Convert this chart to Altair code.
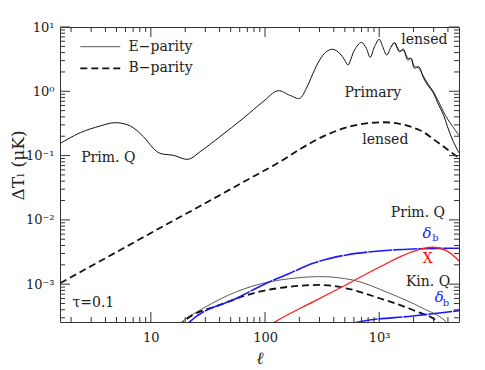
import altair as alt
import pandas as pd

# ---------------- data ----------------
# Primary E-parity (unlensed)
e_prim_l = [1.61, 2.41, 3.6, 4.88, 6.6, 8.6, 10.5, 12, 15.7, 21.3, 27, 40.3, 64.4, 96, 130, 164,
            201, 230, 263, 301, 344, 394, 450, 498, 532, 608, 697, 771, 834, 910, 1000, 1074,
            1164, 1273, 1361, 1503, 1629, 1778, 1901, 2032, 2218, 2444, 2655, 2990, 3250, 3658,
            3972, 4395, 5000]
e_prim_v = [0.155, 0.227, 0.289, 0.325, 0.289, 0.197, 0.130, 0.1086, 0.101, 0.0876, 0.115, 0.197,
            0.38, 0.689, 1.02, 0.87, 0.776, 1.11, 1.9, 3.07, 4.13, 4.5, 3.9, 3.07, 2.57, 4.39,
            5.78, 4.66, 3.38, 4.94, 6.44, 4.94, 3.67, 4.94, 5.7, 4.13, 4.55, 3.07, 3.26, 2.28,
            2.42, 1.61, 1.25, 0.94, 0.66, 0.43, 0.279, 0.175, 0.11]
# Lensed E-parity (tail only, joins the primary curve at l=1361)
e_lens_l = [1273, 1361, 1503, 1629, 1778, 1901, 2032, 2218, 2444, 2655, 2990, 3250, 3658, 3972, 4395, 5000]
e_lens_v = [4.94, 5.7, 4.25, 4.3, 3.3, 3.2, 2.45, 2.3, 1.7, 1.33, 0.98, 0.74, 0.48, 0.37, 0.285, 0.205]
# Lensed B-parity
b_lens_l = [1.61, 3.15, 6.17, 12, 27, 76, 134, 201, 344, 584, 1090, 2250, 3340, 5000]
b_lens_v = [1.04e-3, 2.01e-3, 3.88e-3, 7.48e-3, 0.0164, 0.0455, 0.0794, 0.125, 0.209, 0.29, 0.33,
            0.25, 0.155, 0.0914]
# Kinetic Q, E-parity
kin_e_l = [17, 18.7, 28.8, 56.4, 110, 135, 301, 588, 1230, 2404, 3846, 4500]
kin_e_v = [2.2e-4, 2.58e-4, 4.22e-4, 7.64e-4, 1.09e-3, 1.16e-3, 1.31e-3, 1.16e-3, 7.22e-4,
           4.22e-4, 2.61e-4, 1.9e-4]
# Kinetic Q, B-parity
kin_b_l = [17.5, 19.3, 40.3, 78.7, 165, 301, 515, 1007, 1963, 3251, 3800]
kin_b_v = [2.2e-4, 2.61e-4, 4.75e-4, 7.22e-4, 9.14e-4, 9.72e-4, 8.63e-4, 6.04e-4, 3.97e-4,
           2.61e-4, 2.0e-4]
# delta_b (Prim. Q)
db_prim_l = [20, 22, 56.4, 110, 165, 263, 515, 1007, 1963, 5000]
db_prim_v = [2.2e-4, 2.61e-4, 6.04e-4, 1.09e-3, 1.48e-3, 2.11e-3, 2.85e-3, 3.28e-3, 3.53e-3, 3.62e-3]
# X
x_l = [110, 122, 263, 515, 1007, 1963, 2450, 2938, 3846, 5000]
x_v = [2.3e-4, 2.58e-4, 5.3e-4, 9.8e-4, 1.85e-3, 3.2e-3, 3.6e-3, 3.75e-3, 3.35e-3, 2.3e-3]
# delta_b (Kin. Q)
db_kin_l = [600, 673, 1963, 5000]
db_kin_v = [2.5e-4, 2.61e-4, 3.2e-4, 3.87e-4]

# ticks
x_major = [10, 100, 1000]
x_minor = [2, 3, 4, 5, 6, 7, 8, 9, 20, 30, 40, 50, 60, 70, 80, 90,
           200, 300, 400, 500, 600, 700, 800, 900, 2000, 3000, 4000]
y_major = [1e-3, 1e-2, 1e-1, 1, 10]
y_minor = [3e-4, 4e-4, 5e-4, 6e-4, 7e-4, 8e-4, 9e-4,
           2e-3, 3e-3, 4e-3, 5e-3, 6e-3, 7e-3, 8e-3, 9e-3,
           2e-2, 3e-2, 4e-2, 5e-2, 6e-2, 7e-2, 8e-2, 9e-2,
           0.2, 0.3, 0.4, 0.5, 0.6, 0.7, 0.8, 0.9,
           2, 3, 4, 5, 6, 7, 8, 9]

# annotations
left_texts = ["E\u2212parity", "B\u2212parity", "Prim. Q", "\u03c4=0.1"]
left_l = [6.37, 6.37, 2.45, 2.06]
left_v = [4.94, 2.28, 0.0918, 5.05e-4]
center_texts = ["lensed", "Primary", "lensed", "Prim. Q", "X", "Kin. Q"]
center_l = [2489, 879, 1130, 2183, 2660, 2680]
center_v = [6.28, 0.931, 0.175, 0.0128, 2.44e-3, 1.09e-3]
center_c = ["#222222", "#222222", "#222222", "#222222", "#ff0000", "#222222"]
delta_l = [2625, 3366]
delta_v = [6.32e-3, 6.4e-4]
sub_l = [3105, 3846]
sub_v = [5.18e-3, 5.05e-4]
leg_l1 = [2.41, 2.41]
leg_l2 = [5.39, 5.39]
leg_v = [4.94, 2.28]

# ---------------- chart ----------------
W, H = 399, 295
FONT = "DejaVu Serif"
xs = alt.Scale(type="log", domain=[1.6, 5000], nice=False)
ys = alt.Scale(type="log", domain=[2.58e-4, 10], nice=False)

XA = alt.Axis(values=x_major,
              labelExpr="datum.value < 50 ? '10' : datum.value < 500 ? '100' : '10\u00b3'",
              title="\u2113", titleFontStyle="italic", titleFontSize=17, titleFont=FONT,
              titleFontWeight="normal", titlePadding=6, labelPadding=9)
YA = alt.Axis(values=y_major,
              labelExpr="round(log(datum.value)/LN10) == 1 ? '10\u00b9' : round(log(datum.value)/LN10) == 0 ? '10\u2070' : round(log(datum.value)/LN10) == -1 ? '10\u207b\u00b9' : round(log(datum.value)/LN10) == -2 ? '10\u207b\u00b2' : '10\u207b\u00b3'",
              title="\u0394T\u2097 (\u03bcK)", titleFont=FONT, titleFontSize=17,
              titleFontWeight="normal", titleX=-33, titleY=138, labelPadding=6)


def X(field="ell"):
    return alt.X(f"{field}:Q", scale=xs, axis=XA)


def Y(field="val"):
    return alt.Y(f"{field}:Q", scale=ys, axis=YA)


def df(ls, vs):
    return pd.DataFrame({"ell": ls, "val": vs})


def line(ls, vs, color, width, dash=None, interp="monotone"):
    kw = dict(clip=True, color=color, strokeWidth=width, interpolate=interp)
    if dash:
        kw["strokeDash"] = dash
    return alt.Chart(df(ls, vs)).mark_line(**kw).encode(x=X(), y=Y())


layers = [
    line(e_prim_l, e_prim_v, "#111111", 1.0, interp="catmull-rom"),
    line(e_lens_l, e_lens_v, "#111111", 0.9, interp="catmull-rom"),
    line(b_lens_l, b_lens_v, "#111111", 1.8, dash=[7, 4]),
    line(kin_e_l, kin_e_v, "#333333", 0.8),
    line(kin_b_l, kin_b_v, "#111111", 1.8, dash=[7, 4]),
    line(db_prim_l, db_prim_v, "#1a1aff", 1.6, dash=[24, 1]),
    line(x_l, x_v, "#ff1a1a", 1.3),
    line(db_kin_l, db_kin_v, "#1a1aff", 1.6, dash=[24, 1]),
]

# legend keys
leg = pd.DataFrame({"l1": leg_l1, "l2": leg_l2, "val": leg_v, "k": ["E", "B"]})
layers.append(alt.Chart(leg[leg.k == "E"]).mark_rule(color="#555555", strokeWidth=1.0).encode(
    x=X("l1"), x2="l2:Q", y=Y()))
layers.append(alt.Chart(leg[leg.k == "B"]).mark_rule(color="#111111", strokeWidth=1.8, strokeDash=[7, 4]).encode(
    x=X("l1"), x2="l2:Q", y=Y()))

# ticks (inward, all four sides)
for vals, ln in [(x_major, 10), (x_minor, 5)]:
    d = pd.DataFrame({"ell": vals})
    layers.append(alt.Chart(d).mark_rule(color="#333333", strokeWidth=1).encode(
        x=X(), y=alt.value(H), y2=alt.value(H - ln)))
    layers.append(alt.Chart(d).mark_rule(color="#333333", strokeWidth=1).encode(
        x=X(), y=alt.value(0), y2=alt.value(ln)))
for vals, ln in [(y_major, 10), (y_minor, 5)]:
    d = pd.DataFrame({"val": vals})
    layers.append(alt.Chart(d).mark_rule(color="#333333", strokeWidth=1).encode(
        y=Y(), x=alt.value(0), x2=alt.value(ln)))
    layers.append(alt.Chart(d).mark_rule(color="#333333", strokeWidth=1).encode(
        y=Y(), x=alt.value(W), x2=alt.value(W - ln)))

# texts
lt = pd.DataFrame({"t": left_texts, "ell": left_l, "val": left_v})
layers.append(alt.Chart(lt).mark_text(align="left", baseline="middle", font=FONT, fontSize=14,
                                      color="#222222").encode(x=X(), y=Y(), text="t:N"))
ct = pd.DataFrame({"t": center_texts, "ell": center_l, "val": center_v, "c": center_c})
layers.append(alt.Chart(ct).mark_text(align="center", baseline="middle", font=FONT, fontSize=14).encode(
    x=X(), y=Y(), text="t:N", color=alt.Color("c:N", scale=None)))
dt = pd.DataFrame({"t": ["\u03b4", "\u03b4"], "ell": delta_l, "val": delta_v})
layers.append(alt.Chart(dt).mark_text(align="center", baseline="middle", font=FONT, fontSize=15,
                                      fontStyle="italic", color="#1a1aff").encode(
    x=X(), y=Y(), text="t:N"))
st = pd.DataFrame({"t": ["b", "b"], "ell": sub_l, "val": sub_v})
layers.append(alt.Chart(st).mark_text(align="center", baseline="middle", font=FONT, fontSize=10,
                                      color="#1a1aff").encode(x=X(), y=Y(), text="t:N"))

chart = alt.layer(*layers).properties(
    width=W, height=H,
    autosize=alt.AutoSizeParams(type="none"),
    padding={"left": 52, "top": 19, "right": 18, "bottom": 48},
).configure_view(stroke="#333333", strokeWidth=1).configure_axis(
    domain=False, ticks=False, grid=False, labelFont=FONT, labelFontSize=13, labelColor="#222222",
    titleColor="#222222",
)

chart.save("out.html", embed_options={"renderer": "svg", "actions": False})
